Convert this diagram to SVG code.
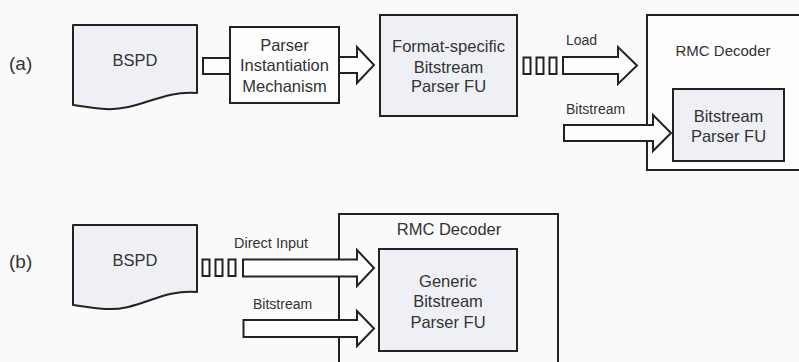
<svg xmlns="http://www.w3.org/2000/svg" width="799" height="362" viewBox="0 0 799 362">
  <style>
    .bg { fill: #fafafa; }
    .box { fill: #fdfdfd; stroke: #222; stroke-width: 2; }
    .frame { fill: none; stroke: #222; stroke-width: 2; }
    .fu { fill: #eef0f5; stroke: #222; stroke-width: 2; }
    .doc { fill: #eef0f5; stroke: #222; stroke-width: 2; stroke-linejoin: round; }
    .arrow { fill: #fdfdfd; stroke: #222; stroke-width: 2; stroke-linejoin: miter; }
    .pkt { fill: #fdfdfd; stroke: #222; stroke-width: 2; }
    text { font-family: "Liberation Sans", Arial, sans-serif; fill: #333; }
    .t { font-size: 16.5px; text-anchor: middle; }
    .lbl { font-size: 14px; }
    .tag { font-size: 19px; }
  </style>
  <defs>
    <!-- bitstream packet train: three small frames -->
    <g id="packets">
      <rect class="pkt" x="0" y="0" width="7" height="16.5"/>
      <rect class="pkt" x="13" y="0" width="7" height="16.5"/>
      <rect class="pkt" x="26" y="0" width="7" height="16.5"/>
    </g>
  </defs>

  <rect class="bg" x="0" y="0" width="799" height="362"/>

  <!-- panel labels -->
  <text class="tag" x="9" y="70">(a)</text>
  <text class="tag" x="9" y="268">(b)</text>

  <!-- decoder containers sit underneath the arrows that enter them -->
  <g id="decoder-a">
    <rect class="box" x="647" y="15" width="160" height="155"/>
    <text class="t" x="723" y="56" style="font-size:15px">RMC Decoder</text>
  </g>

  <g id="decoder-b">
    <path class="frame" d="M339,370 V214 H558 V370"/>
    <text class="t" x="449" y="235">RMC Decoder</text>
  </g>

  <g id="connectors">
    <!-- (a) BSPD to parser instantiation -->
    <path class="arrow" d="M203,58 H230 V74 H203 Z"/>
    <!-- (a) parser instantiation to format-specific FU -->
    <path class="arrow" d="M339,57 H357 V47 L374,65 L357,83 V73 H339"/>
    <!-- (a) Load -->
    <use href="#packets" x="523.5" y="57.5"/>
    <path class="arrow" d="M563,57 H618 V47 L637,65.5 L618,84 V74 H563 Z"/>
    <text class="lbl" x="566" y="45">Load</text>
    <!-- (a) Bitstream -->
    <path class="arrow" d="M564,125 H653 V115 L671,133 L653,151 V141 H564 Z"/>
    <text class="lbl" x="566" y="114">Bitstream</text>

    <!-- (b) Direct Input -->
    <use href="#packets" x="202.5" y="259.5"/>
    <path class="arrow" d="M243,259.5 H357 V250 L374,268 L357,286 V276.5 H243 Z"/>
    <text class="lbl" x="234" y="248" style="font-size:14.5px">Direct Input</text>
    <!-- (b) Bitstream -->
    <path class="arrow" d="M243.5,320 H357 V311 L374,328.5 L357,346 V337 H243.5 Z"/>
    <text class="lbl" x="253" y="309">Bitstream</text>
  </g>

  <!-- ===== (a) ===== -->
  <g id="bspd-a">
    <path class="doc" d="M73,25 H197 V93 C160,90 140,111 105,109 C90,108 80,106 73,105 Z"/>
    <text class="t" x="135" y="65.5">BSPD</text>
  </g>

  <g id="parser-instantiation">
    <rect class="box" x="230" y="27" width="109" height="76"/>
    <text class="t" x="284.5" y="51">Parser</text>
    <text class="t" x="284.5" y="71">Instantiation</text>
    <text class="t" x="284.5" y="92">Mechanism</text>
  </g>

  <g id="format-specific-fu">
    <rect class="fu" x="380" y="15" width="137" height="101"/>
    <text class="t" x="448.5" y="52">Format-specific</text>
    <text class="t" x="448.5" y="72.5">Bitstream</text>
    <text class="t" x="448.5" y="92">Parser FU</text>
  </g>

  <g id="bitstream-parser-fu">
    <rect class="fu" x="673" y="89" width="111" height="72"/>
    <text class="t" x="728.5" y="122">Bitstream</text>
    <text class="t" x="728.5" y="142">Parser FU</text>
  </g>

  <!-- ===== (b) ===== -->
  <g id="bspd-b">
    <path class="doc" d="M73,225 H197 V292 C160,289 140,311 105,309 C90,308 80,306 73,305 Z"/>
    <text class="t" x="135" y="266">BSPD</text>
  </g>

  <g id="generic-fu">
    <rect class="fu" x="379" y="249" width="138" height="102"/>
    <text class="t" x="448" y="287">Generic</text>
    <text class="t" x="448" y="307">Bitstream</text>
    <text class="t" x="448" y="328">Parser FU</text>
  </g>
</svg>
